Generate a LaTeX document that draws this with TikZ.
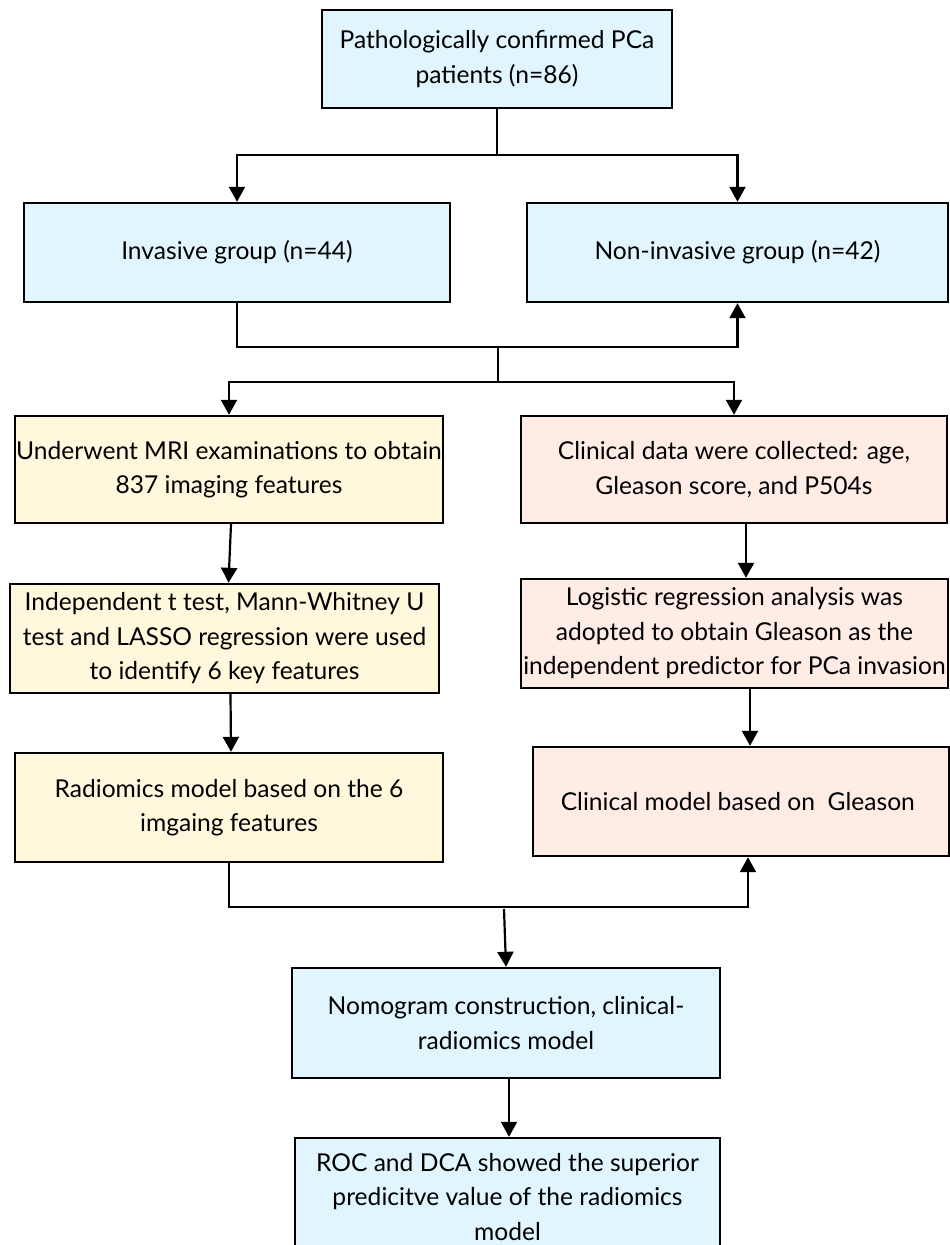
\documentclass[tikz,border=0pt]{standalone}
\usepackage{fontspec}
\setmainfont{Lato}
\usetikzlibrary{arrows.meta,positioning}
\definecolor{boxblue}{HTML}{E1F5FE}
\definecolor{boxyellow}{HTML}{FFF8DC}
\definecolor{boxpink}{HTML}{FFEDE5}

\begin{document}
\begin{tikzpicture}[x=1pt,y=-1pt,
		place/.style={rectangle,draw,line width=2.4pt,align=center,inner sep=0pt,
			font=\fontsize{24.6}{34.5}\selectfont},
		blueplace/.style={place,fill=boxblue},
		yellowplace/.style={place,fill=boxyellow},
		pinkplace/.style={place,fill=boxpink},
		marrow/.style={-{Triangle[width=16pt,length=15pt]},line width=2.2pt},
		mline/.style={-,line width=2.2pt}]
		\useasboundingbox (0,0) rectangle (950,1245);

		\node [blueplace,minimum width=350,minimum height=98] (patients) at (497,59) {
			Pathologically confirmed PCa\\patients (n=86)
		};
		\node [blueplace,minimum width=426,minimum height=99] (invasive) at (237,252.5) {Invasive group (n=44)};
		\node [blueplace,minimum width=421,minimum height=99] (noninvasive) at (737.5,252.5) {Non-invasive group (n=42)};

		\node [yellowplace,minimum width=428,minimum height=107] (mri) at (229,469.5) {
			Underwent MRI examinations to obtain\\837 imaging features
		};
		\node [pinkplace,minimum width=426,minimum height=107] (clinical) at (734,469.5) {
			Clinical data were collected: age,\\Gleason score, and P504s
		};

		\node [yellowplace,minimum width=429,minimum height=109] (select) at (224.5,638.5) {
			Independent t test, Mann-Whitney U\\test and LASSO regression were used\\to identify 6 key features
		};
		\node [pinkplace,minimum width=427,minimum height=109] (logistic) at (734.5,633.5) {
			Logistic regression analysis was\\adopted to obtain Gleason as the\\independent predictor for PCa invasion
		};

		\node [yellowplace,minimum width=428,minimum height=109] (radiomics) at (229,807.5) {
			Radiomics model based on the 6\\imgaing features
		};
		\node [pinkplace,minimum width=416,minimum height=109] (clinmodel) at (741,801.5) {
			Clinical model based on~ Gleason
		};

		\node [blueplace,minimum width=428,minimum height=110] (nomogram) at (506,1023) {
			Nomogram construction, clinical-\\radiomics model
		};
		\node [blueplace,minimum width=425,minimum height=118] (roc) at (507.5,1197) {
			ROC and DCA showed the superior\\predicitve value of the radiomics\\model
		};

		\coordinate (split-top) at (497,155);
		\coordinate (join-groups) at (498,346);
		\coordinate (split-groups) at (498,382);
		\coordinate (join-models) at (504,909);

		% split into the two groups
		\draw [mline] (patients.south) to (split-top);
		\draw [marrow] (split-top) -| (invasive.north);
		\draw [marrow] (split-top) -| (noninvasive.north);

		% groups joined, then split into both branches
		\draw [marrow] (invasive.south) -- ++(0,44) -| (noninvasive.south);
		\draw [mline] (join-groups) to (split-groups);
		\draw [marrow] (split-groups) -| (mri.north);
		\draw [marrow] (split-groups) -| (clinical.north);

		% vertical arrows
		\draw [marrow] ([xshift=2]mri.south) to ([xshift=4]select.north);
		\draw [marrow] ([xshift=6]select.south) to ([xshift=2]radiomics.north);
		\draw [marrow] ([xshift=12]clinical.south) to ([xshift=11.5]logistic.north);
		\draw [marrow] ([xshift=15.5]logistic.south) to ([xshift=9]clinmodel.north);

		% models joined into the nomogram
		\draw [marrow] (radiomics.south) -- ++(0,44) -| ([xshift=7]clinmodel.south);
		\draw [marrow] (join-models) to (nomogram.north);
		\draw [marrow] ([xshift=3]nomogram.south) to ([xshift=1.5]roc.north);
	\end{tikzpicture}
\end{document}
